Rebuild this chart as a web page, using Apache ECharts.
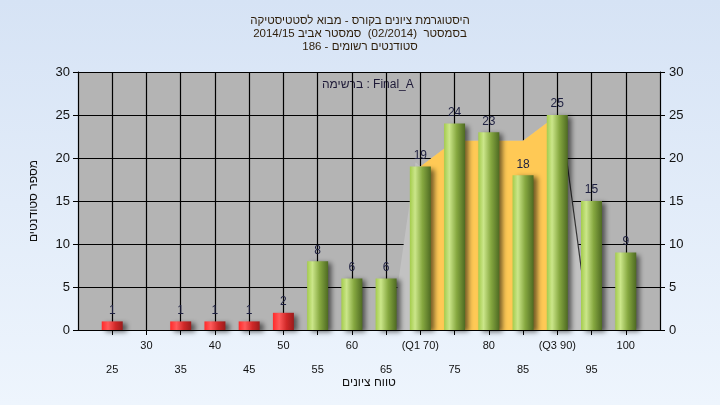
<!DOCTYPE html>
<html><head><meta charset="utf-8">
<script src="https://cdn.jsdelivr.net/npm/echarts@6/dist/echarts.min.js"></script>
<style>html,body{margin:0;padding:0;}#c{width:720px;height:405px;}</style>
</head><body><div id="c"></div>
<script>
var scores = [25,30,35,40,45,50,55,60,65,70,75,80,85,90,95,100];
var counts = [1,0,1,1,1,2,8,6,6,19,24,23,18,25,15,9];
var tickLabels = ['25','30','35','40','45','50','55','60','65','(Q1 70)','75','80','85','(Q3 90)','95','100'];
var passMark = 55;
var iqrX = [70,75,80,85,90];
var iqrY = [19,22,22,22,25];
var tailLeft = [[65.75,0],[69.3,19.5]];
var tailRight = [[90.5,25],[94.7,0]];
var titleLines = ['היסטוגרמת ציונים בקורס - מבוא לסטטיסטיקה','בסמסטר  (02/2014)  סמסטר אביב 2014/15','סטודנטים רשומים - 186'];
var listLabel = 'ברשימה : Final_A';
var yName = 'מספר סטודנטים';
var xName = 'טווח ציונים';

var FONT = "'Liberation Sans', Arial, sans-serif";
function grad(stops){return {type:'linear',x:0,y:0,x2:1,y2:0,colorStops:stops};}
var redG = grad([{offset:0,color:'#ff2a2a'},{offset:0.3,color:'#ff5a5a'},{offset:0.65,color:'#d02828'},{offset:1,color:'#9a1c1c'}]);
var greenG = grad([{offset:0,color:'#a4cc4c'},{offset:0.25,color:'#cbe68a'},{offset:0.6,color:'#86a840'},{offset:1,color:'#4e6a22'}]);

var barData = [];
for (var i=0;i<scores.length;i++){
  if (counts[i] > 0) barData.push({value:[scores[i],counts[i]], itemStyle:{color: scores[i] < passMark ? redG : greenG}});
}
var iqrData = iqrX.map(function(x,i){return [x,iqrY[i]];});
var grayData = tailLeft.concat(iqrData).concat(tailRight);
var labelMap = {};
scores.forEach(function(s,i){labelMap[s]=tickLabels[i];});

var chart = echarts.init(document.getElementById('c'));
chart.setOption({
  animation:false,
  backgroundColor:{type:'linear',x:0,y:0,x2:0,y2:1,colorStops:[{offset:0,color:'#d6e3f5'},{offset:1,color:'#eef5fd'}]},
  textStyle:{fontFamily:FONT},
  title:{text:titleLines.join('\n'),left:'center',top:9,textStyle:{fontSize:11.5,lineHeight:13,fontWeight:'normal',color:'#2e1e0a',fontFamily:FONT}},
  graphic:[{type:'text',left:322,top:79,style:{text:listLabel,fontSize:12,fill:'#1e1a38',fontFamily:FONT}}],
  grid:{left:78,right:60,top:72,bottom:75,show:true,backgroundColor:'#b4b4b4',borderWidth:0},
  xAxis:{type:'value',min:20,max:105,interval:5,
    name:xName,nameLocation:'middle',nameGap:47,nameMoveOverlap:false,nameTextStyle:{fontSize:12,color:'#111',fontFamily:FONT},
    axisLine:{show:true,lineStyle:{color:'#000',width:1}},
    axisTick:{show:true,length:5,lineStyle:{color:'#000'}},
    splitLine:{show:true,lineStyle:{color:'#000',width:1.2}},
    axisLabel:{showMinLabel:false,showMaxLabel:false,margin:4,fontSize:11,color:'#111',lineHeight:24,fontFamily:FONT,
      formatter:function(v){var l=labelMap[v]; if(l===undefined) return ''; return (v%10===5)?('\n'+l):l;}}
  },
  yAxis:[
    {type:'value',min:0,max:30,interval:5,position:'left',
     name:yName,nameLocation:'middle',nameGap:38,nameRotate:90,nameMoveOverlap:false,nameTextStyle:{fontSize:12,color:'#111',fontFamily:FONT},
     axisLine:{show:true,lineStyle:{color:'#000'}},axisTick:{show:true,length:5,lineStyle:{color:'#000'}},
     splitLine:{show:true,lineStyle:{color:'#000',width:1.2}},
     axisLabel:{fontSize:13,color:'#111',margin:8,fontFamily:FONT}},
    {type:'value',min:0,max:30,interval:5,position:'right',
     axisLine:{show:true,lineStyle:{color:'#000'}},axisTick:{show:true,length:5,lineStyle:{color:'#000'}},
     splitLine:{show:false},
     axisLabel:{fontSize:13,color:'#111',margin:9,fontFamily:FONT}}
  ],
  series:[
    {type:'line',data:grayData,symbol:'none',lineStyle:{width:0},areaStyle:{color:'#c2c2c2',opacity:1},z:1,silent:true},
    {type:'line',data:iqrData,symbol:'none',lineStyle:{width:0},areaStyle:{color:'#ffc955',opacity:1},z:2,silent:true},
    {type:'line',data:tailRight,symbol:'none',lineStyle:{width:1.2,color:'#333'},z:2,silent:true},
    {type:'bar',data:barData,barWidth:21,z:3,
     itemStyle:{shadowBlur:5,shadowOffsetX:4,shadowOffsetY:2,shadowColor:'rgba(0,0,0,0.55)'},
     label:{show:true,position:'top',distance:5,fontSize:12,color:'#1e2040',fontFamily:FONT}}
  ]
});
</script></body></html>
